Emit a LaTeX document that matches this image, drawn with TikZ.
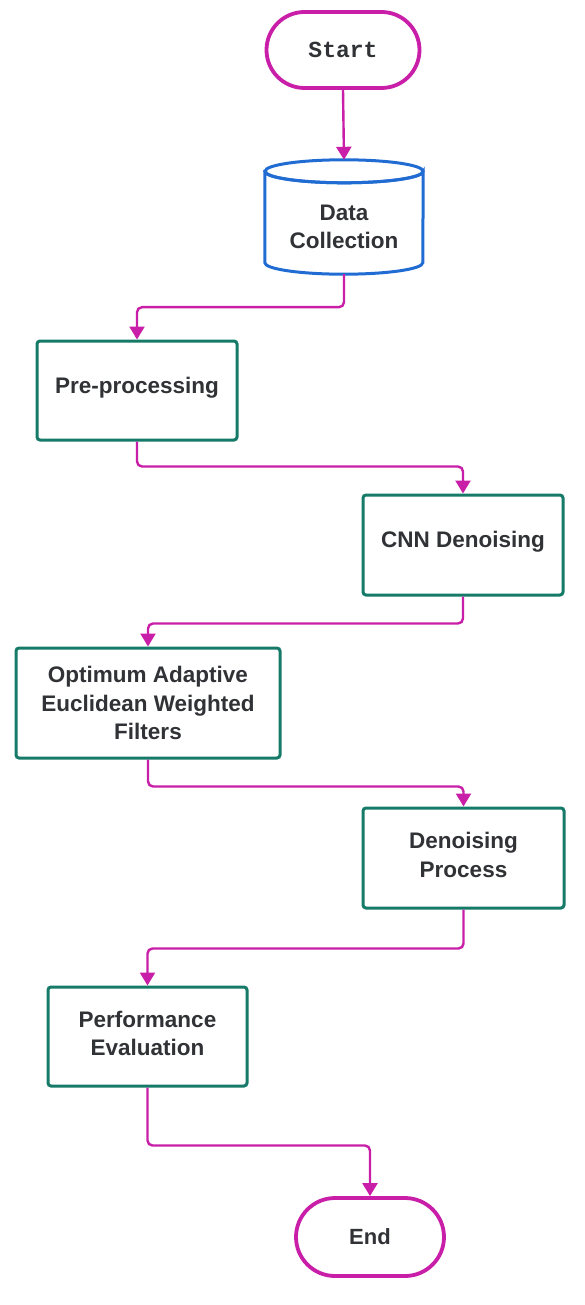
\documentclass[tikz,border=0pt]{standalone}
\usepackage{fontspec}
\setmainfont{Liberation Sans}
\newfontfamily\monofont{Liberation Mono}
\usetikzlibrary{arrows.meta,shapes.misc}
\definecolor{mag}{RGB}{200,30,168}
\definecolor{teal}{RGB}{22,122,104}
\definecolor{cylblue}{RGB}{32,108,210}
\definecolor{txt}{RGB}{48,50,54}
\tikzset{
  procbox/.style={draw=teal, line width=3pt, rounded corners=3pt, fill=white, inner sep=0pt},
  lbl/.style={align=center, text=txt, font=\fontsize{22.5}{28.5}\selectfont\bfseries, inner sep=0pt},
  term/.style={draw=mag, line width=3.8pt, rounded rectangle, fill=white,
    text=txt, inner sep=0pt},
  conn/.style={draw=mag, line width=2.4pt, rounded corners=5pt,
    -{Triangle[width=15pt,length=13pt]}},
}
\begin{document}
\begin{tikzpicture}[x=1pt,y=-1pt]
\useasboundingbox (0,0) rectangle (584,1305);
\node[term, minimum width=153pt, minimum height=76pt,
  font=\monofont\fontsize{23}{26}\selectfont\bfseries] (start) at (343,50) {Start};
% cylinder
\node[draw=none, minimum width=158pt, minimum height=114pt, inner sep=0pt] (dc) at (344,217) {};
\draw[cylblue, line width=3pt, fill=white]
  ([yshift=-11.5pt]dc.north west) -- ([yshift=11.5pt]dc.south west)
  arc[start angle=180, end angle=360, x radius=79pt, y radius=11.5pt]
  -- ([yshift=-11.5pt]dc.north east)
  arc[start angle=0, end angle=-180, x radius=79pt, y radius=11.5pt] -- cycle;
\draw[cylblue, line width=3pt] ([yshift=-11.5pt]dc.north)
  ellipse[x radius=79pt, y radius=11.5pt];
\node[lbl] (dctext) at (344,227) {Data\\Collection};
\node[procbox, minimum width=200pt, minimum height=99pt] (pre) at (137,390.5) {};
\node[lbl] (pretext) at (137,388) {Pre-processing};
\node[procbox, minimum width=200pt, minimum height=100pt] (cnn) at (463,545) {};
\node[lbl] (cnntext) at (463,542) {CNN Denoising};
\node[procbox, minimum width=264pt, minimum height=110pt] (oa) at (148,703) {};
\node[lbl] (oatext) at (148,703) {Optimum Adaptive\\Euclidean Weighted\\Filters};
\node[procbox, minimum width=201pt, minimum height=100pt] (dp) at (463.5,858) {};
\node[lbl] (dptext) at (463.5,855) {Denoising\\Process};
\node[procbox, minimum width=199pt, minimum height=99pt] (pe) at (147.5,1036.5) {};
\node[lbl] (petext) at (147.5,1033.5) {Performance\\Evaluation};
\node[term, minimum width=148pt, minimum height=78pt,
  font=\fontsize{22}{26}\selectfont\bfseries] (end) at (370,1237) {End};
\draw[conn] (start.south) -- (dc.north);
\draw[conn] (dc.south) -- ++(0,33) -| (pre.north);
\draw[conn] (pre.south) -- ++(0,25) -| (cnn.north);
\draw[conn] (cnn.south) -- ++(0,27) -| (oa.north);
\draw[conn] (oa.south) -- ++(0,27) -| (dp.north);
\draw[conn] (dp.south) -- ++(0,39) -| (pe.north);
\draw[conn] (pe.south) -- ++(0,58) -| (end.north);
\end{tikzpicture}
\end{document}
